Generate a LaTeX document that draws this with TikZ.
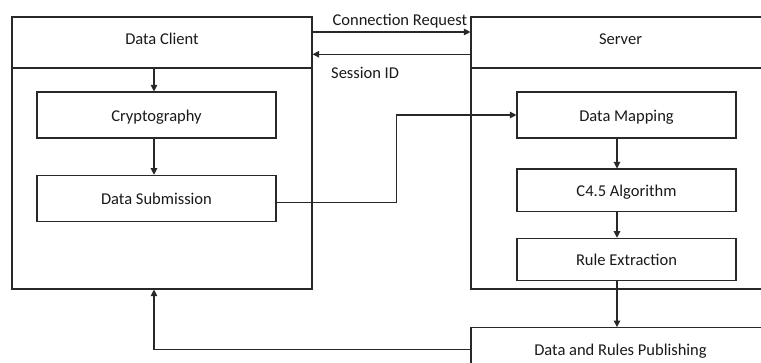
\documentclass[tikz,border=0pt]{standalone}
\usepackage{fontspec}
\setmainfont{Carlito}
\usetikzlibrary{arrows.meta,calc}
\definecolor{ln}{RGB}{40,40,40}
\definecolor{txt}{RGB}{25,25,25}
\begin{document}
\begin{tikzpicture}[x=1pt,y=-1pt,
  every node/.style={font=\fontsize{16.5}{19}\selectfont, text=txt},
  box/.style={draw=ln, line width=1.1pt, rectangle, inner sep=0pt, text height=14pt, text depth=1.2pt},
  hdr/.style={box, text height=10pt, text depth=6pt},
  arr/.style={draw=ln, line width=1.1pt, -{Triangle[width=6.5pt,length=6.5pt]}}]
\useasboundingbox (0,0) rectangle (761,363);
\clip (0,0) rectangle (761,363);
% client
\node (chead) [hdr, minimum width=300pt, minimum height=51pt] at (162,42.5) {Data Client};
\node (cbody) [box, minimum width=300pt, minimum height=221pt] at (162,178.5) {};
\node (crypto) [box, minimum width=239pt, minimum height=46pt] at (156.5,115) {Cryptography};
\node (sub) [box, minimum width=239pt, minimum height=46pt] at (156.5,198.3) {Data Submission};
% server
\node (shead) [hdr, minimum width=299pt, minimum height=51pt] at (620.5,42.5) {Server};
\node (sbody) [box, minimum width=299pt, minimum height=221pt] at (620.5,178.5) {};
\node (map) [box, minimum width=219pt, minimum height=46pt] at (626.5,115) {Data Mapping};
\node (c45) [box, minimum width=219pt, minimum height=42.7pt] at (626.5,190.4) {C4.5 Algorithm};
\node (rule) [box, minimum width=219pt, minimum height=42.4pt] at (626.5,259.5) {Rule Extraction};
\node (pub) [box, minimum width=299pt, minimum height=44pt] at (620.5,349.6) {Data and Rules Publishing};
% connectors
\draw[arr] ([xshift=-2.5pt]crypto.north |- chead.south) -- ([xshift=-2.5pt]crypto.north);
\draw[arr] ([xshift=-2.5pt]crypto.south) -- ([xshift=-2.5pt]sub.north);
\draw[arr] ([yshift=10.5pt]chead.east) -- node[anchor=base, pos=0.553, yshift=6.3pt]{Connection Request} ([yshift=10.5pt]shead.west);
\draw[arr] ([yshift=-11.8pt]shead.west) -- node[anchor=base, pos=0.667, yshift=-24pt]{Session ID} ([yshift=-11.8pt]chead.east);
\draw[arr] ([yshift=-4pt]sub.east) -- ++(120,0) |- (map.west);
\draw[arr] ([xshift=-9.5pt]map.south) -- ([xshift=-9.5pt]c45.north);
\draw[arr] ([xshift=-9.5pt]c45.south) -- ([xshift=-9.5pt]rule.north);
\draw[arr] ([xshift=-9.5pt]rule.south) -- ([xshift=-9.5pt]rule.south |- pub.north);
\draw[arr] (pub.west) -| ([xshift=-2.5pt]crypto.south |- cbody.south);
\end{tikzpicture}
\end{document}
